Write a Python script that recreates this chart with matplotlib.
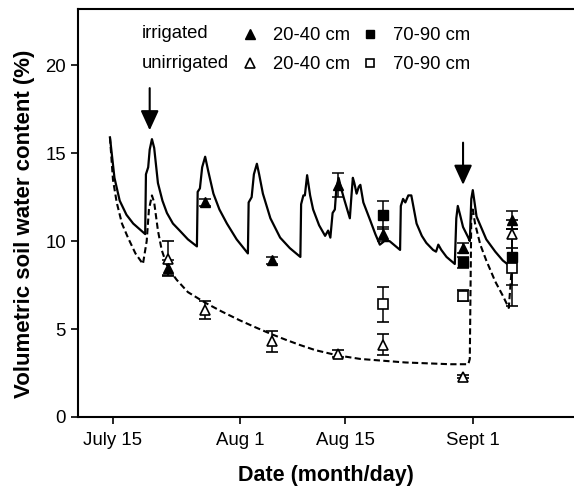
import matplotlib
matplotlib.use("Agg")
import matplotlib.pyplot as plt
from matplotlib.lines import Line2D

plt.rcParams['font.family'] = ['Liberation Sans', 'DejaVu Sans']

# days after July 15
irr_day = [-0.4, 0.2, 0.9, 1.8, 2.7, 3.5, 4.3, 4.4, 4.7, 4.9, 5.2, 5.5, 6.0, 6.6, 7.2, 8.0, 8.9, 10.0, 11.2,
           11.3, 11.6, 11.9, 12.3, 12.7, 13.4, 14.2, 15.2, 16.5, 18.0,
           18.1, 18.5, 18.8, 19.2, 19.5, 20.0, 21.0, 22.3, 23.6, 25.0,
           25.1, 25.4, 25.6, 25.9, 26.3, 26.7, 27.5, 28.3, 28.7, 29.0, 29.3, 29.6, 29.8, 30.1, 30.5, 30.9,
           31.6, 31.8, 32.0, 32.2, 32.5, 32.8, 33.0, 33.4, 34.3, 35.0, 35.6, 36.2, 36.9, 38.3,
           38.4, 38.7, 39.0, 39.4, 39.8, 40.5, 41.2, 41.8, 42.7, 43.1, 43.4, 43.8, 44.5, 45.6,
           45.8, 46.0, 46.3, 46.7, 47.4, 47.6,
           47.8, 48.0, 48.2, 48.5, 49.2, 49.8, 51.0, 52.0, 53.2]
irr_vwc = [15.9, 13.6, 12.3, 11.5, 11.0, 10.7, 10.4, 13.8, 14.2, 15.2, 15.8, 15.3, 13.3, 12.3, 11.6, 11.0, 10.6, 10.1, 9.7,
           12.8, 13.0, 14.2, 14.8, 14.0, 12.7, 11.8, 11.0, 10.1, 9.3,
           12.2, 12.5, 13.8, 14.4, 13.8, 12.7, 11.3, 10.2, 9.6, 9.1,
           12.1, 12.6, 12.6, 13.75, 12.6, 11.8, 10.9, 10.3, 10.6, 10.2, 11.6, 11.8, 13.0, 13.6, 12.9, 12.3,
           11.3, 12.5, 13.6, 13.3, 12.7, 13.1, 13.2, 12.2, 11.2, 10.4, 9.8, 10.0, 10.0, 9.5,
           12.0, 12.4, 12.2, 12.6, 12.6, 11.0, 10.3, 9.9, 9.5, 9.4, 9.8, 9.5, 9.1, 8.7,
           11.3, 12.0, 11.5, 10.8, 10.2, 10.0,
           12.4, 12.9, 12.3, 11.4, 10.7, 10.1, 9.4, 8.9, 8.5]

unirr_day = [-0.4, 0.0, 0.5, 1.2, 2.0, 3.0, 4.0, 4.5, 4.8, 5.2, 5.5, 6.0, 6.5, 7.3, 8.5, 10.0, 12.3, 14.5,
             16.9, 19.0, 21.2, 23.0, 24.9, 27.0, 30.0, 33.0, 36.0, 39.0, 42.0, 45.0, 47.4, 47.6,
             47.8, 48.0, 48.3, 49.0, 49.8, 51.0, 52.0, 52.8, 53.2]
unirr_vwc = [15.9, 13.5, 12.2, 11.0, 10.2, 9.3, 8.7, 10.0, 11.8, 12.6, 12.2, 10.6, 9.5, 8.5, 7.8, 7.1, 6.5, 6.0,
             5.5, 5.1, 4.7, 4.4, 4.1, 3.8, 3.5, 3.3, 3.2, 3.1, 3.05, 3.0, 3.0, 3.3,
             11.5, 11.8, 11.0, 9.8, 8.9, 7.7, 6.9, 6.2, 8.5]

irr_2040_day = [7.4, 12.3, 21.2, 30.0, 36.0, 46.7, 53.2]
irr_2040_val = [8.5, 12.2, 8.9, 13.2, 10.4, 9.6, 11.2]
irr_2040_err = [0.4, 0.2, 0.2, 0.7, 0.4, 0.3, 0.5]

unirr_2040_day = [7.4, 12.3, 21.2, 30.0, 36.0, 46.7, 53.2]
unirr_2040_val = [9.0, 6.1, 4.3, 3.6, 4.1, 2.3, 10.4]
unirr_2040_err = [1.0, 0.5, 0.6, 0.2, 0.6, 0.1, 0.8]

irr_7090_day = [36.0, 46.7, 53.2]
irr_7090_val = [11.5, 8.8, 9.1]
irr_7090_err = [0.8, 0.3, 1.6]

unirr_7090_day = [36.0, 46.7, 53.2]
unirr_7090_val = [6.4, 6.9, 8.5]
unirr_7090_err = [1.0, 0.3, 2.2]

# irrigation events
arrow_day = [4.9, 46.7]
arrow_top = [18.7, 15.6]
arrow_tip = [16.3, 13.2]

tick_days = [0, 17, 31, 48]
tick_labels = ['July 15', 'Aug 1', 'Aug 15', 'Sept 1']

fig = plt.figure(figsize=(5.74, 4.86), dpi=100)
ax = fig.add_axes([0.1354, 0.142, 0.8646, 0.8395])

ax.plot(irr_day, irr_vwc, color='black', lw=1.6, zorder=2)
ax.plot(unirr_day, unirr_vwc, color='black', lw=1.5, ls=(0, (3, 1.6)), zorder=2)

eb = dict(color='black', ecolor='black', elinewidth=1.1, capsize=4, capthick=1.1, ls='none', zorder=3)
ax.errorbar(unirr_2040_day, unirr_2040_val, yerr=unirr_2040_err, fmt='^', mfc='white', mec='black',
            mew=1.2, ms=7, **eb)
ax.errorbar(unirr_7090_day, unirr_7090_val, yerr=unirr_7090_err, fmt='s', mfc='white', mec='black',
            mew=1.2, ms=7, **eb)
ax.errorbar(irr_7090_day, irr_7090_val, yerr=irr_7090_err, fmt='s', mfc='black', mec='black', ms=7, **eb)
ax.errorbar(irr_2040_day, irr_2040_val, yerr=irr_2040_err, fmt='^', mfc='black', mec='black', ms=7, **eb)

for d, y0, y1 in zip(arrow_day, arrow_top, arrow_tip):
    ax.annotate('', xy=(d, y1), xytext=(d, y0),
                arrowprops=dict(arrowstyle='-|>,head_width=0.55,head_length=1.2', lw=1.5,
                                color='black', mutation_scale=10, shrinkA=0, shrinkB=0))

ax.set_xlim(-4.7, 61.5)
ax.set_ylim(0, 23.2)
ax.set_xticks(tick_days)
ax.set_xticklabels(tick_labels)
ax.set_yticks([0, 5, 10, 15, 20])
ax.tick_params(axis='both', direction='out', length=5, width=1.2, labelsize=13.4, colors='black')
ax.tick_params(axis='x', pad=6)
ax.spines['right'].set_visible(False)
for s in ['left', 'bottom', 'top']:
    ax.spines[s].set_linewidth(1.5)

ax.set_xlabel('Date (month/day)', fontsize=15.5, fontweight='bold', labelpad=11)
ax.set_ylabel('Volumetric soil water content (%)', fontsize=16, fontweight='bold')
ax.yaxis.set_label_coords(-0.086, 0.473)

# legend
handles = [Line2D([], [], marker='^', ls='none', mfc='black', mec='black', ms=7),
           Line2D([], [], marker='^', ls='none', mfc='white', mec='black', mew=1.2, ms=7),
           Line2D([], [], marker='s', ls='none', mfc='black', mec='black', ms=6),
           Line2D([], [], marker='s', ls='none', mfc='white', mec='black', mew=1.2, ms=6)]
labels = ['20-40 cm', '20-40 cm', '70-90 cm', '70-90 cm']
ax.legend(handles, labels, ncol=2, frameon=False, fontsize=13.3, loc='upper left',
          bbox_to_anchor=(241 / 574, 1 - 27 / 486), bbox_transform=fig.transFigure,
          handlelength=1.0, handletextpad=0.73, columnspacing=0.6, labelspacing=0.67,
          borderpad=0, borderaxespad=0)
fig.text(142 / 574, 1 - 34 / 486, 'irrigated', fontsize=13.3, va='center', ha='left')
fig.text(142 / 574, 1 - 63 / 486, 'unirrigated', fontsize=13.3, va='center', ha='left')

fig.savefig('out.png', dpi=100)
